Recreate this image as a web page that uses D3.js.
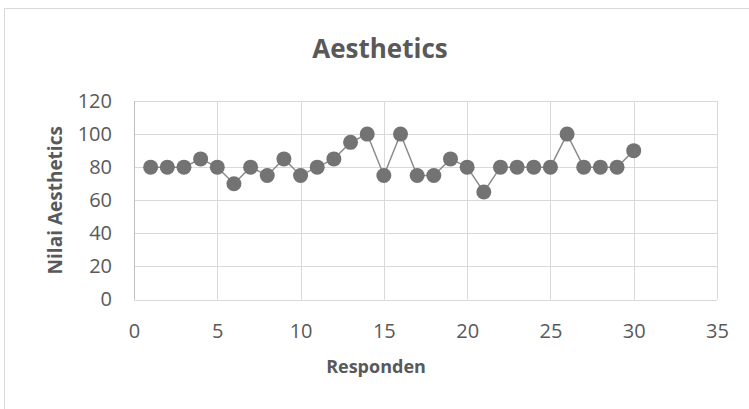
<!DOCTYPE html>
<html>
<head>
<meta charset="utf-8">
<script src="https://cdn.jsdelivr.net/npm/d3@7"></script>
<style>
  body { margin: 0; background: #fff; }
  text { font-family: "Open Sans", "Noto Sans", sans-serif; fill: #595959; }
</style>
</head>
<body>
<script>
const w = 749;
const h = 409;
const margin = { top: 101, right: 32, bottom: 110, left: 134 };

// data
const responden = d3.range(1, 31);
const nilai = [80, 80, 80, 85, 80, 70, 80, 75, 85, 75,
               80, 85, 95, 100, 75, 100, 75, 75, 85, 80,
               65, 80, 80, 80, 80, 100, 80, 80, 80, 90];
const xTicks = [0, 5, 10, 15, 20, 25, 30, 35];
const yTicks = [0, 20, 40, 60, 80, 100, 120];

const data = responden.map((r, i) => ({ x: r, y: nilai[i] }));

const svg = d3.select("body").append("svg")
    .attr("width", w)
    .attr("height", h);

// chart border
svg.append("rect")
    .attr("x", 4.5).attr("y", 8.5)
    .attr("width", w).attr("height", h)
    .attr("fill", "#fff")
    .attr("stroke", "#d9d9d9");

const xScale = d3.scaleLinear()
    .domain([0, 35])
    .range([margin.left, w - margin.right]);

const yScale = d3.scaleLinear()
    .domain([0, 120])
    .range([h - margin.bottom + 0.5, margin.top]);

// gridlines
svg.append("g")
    .selectAll("line.h")
    .data(yTicks)
    .enter().append("line")
    .attr("x1", xScale(0)).attr("x2", xScale(35))
    .attr("y1", d => Math.round(yScale(d)) + 0.5)
    .attr("y2", d => Math.round(yScale(d)) + 0.5)
    .attr("stroke", "#d9d9d9");

svg.append("g")
    .selectAll("line.v")
    .data(xTicks)
    .enter().append("line")
    .attr("y1", yScale(0)).attr("y2", yScale(120))
    .attr("x1", d => Math.round(xScale(d)) + 0.5)
    .attr("x2", d => Math.round(xScale(d)) + 0.5)
    .attr("stroke", d => d === 0 ? "#bfbfbf" : "#d9d9d9");

// axes labels
const xAxis = d3.axisBottom(xScale).tickValues(xTicks).tickSize(0).tickPadding(24);
const yAxis = d3.axisLeft(yScale).tickValues(yTicks).tickSize(0).tickPadding(22);

svg.append("g")
    .attr("transform", `translate(0,${yScale(0)})`)
    .call(xAxis)
    .call(g => g.select(".domain").remove())
    .selectAll("text")
    .style("font-size", "20px")
    .attr("fill", "#595959");

svg.append("g")
    .attr("transform", `translate(${xScale(0)},0)`)
    .call(yAxis)
    .call(g => g.select(".domain").remove())
    .selectAll("text")
    .style("font-size", "20px")
    .attr("fill", "#595959");

// line
const line = d3.line()
    .x(d => xScale(d.x))
    .y(d => yScale(d.y));

svg.append("path")
    .datum(data)
    .attr("d", line)
    .attr("fill", "none")
    .attr("stroke", "#8c8c8c")
    .attr("stroke-width", 1.5);

// markers
svg.selectAll("circle")
    .data(data)
    .enter().append("circle")
    .attr("cx", d => xScale(d.x))
    .attr("cy", d => yScale(d.y))
    .attr("r", 7.5)
    .attr("fill", "#737373");

// title
svg.append("text")
    .attr("x", 380).attr("y", 58)
    .attr("text-anchor", "middle")
    .style("font-size", "26px")
    .style("font-weight", "bold")
    .text("Aesthetics");

// axis titles
svg.append("text")
    .attr("x", 376)
    .attr("y", 373)
    .attr("text-anchor", "middle")
    .style("font-size", "18px")
    .style("font-weight", "bold")
    .text("Responden");

svg.append("text")
    .attr("transform", `translate(62,${(yScale(0) + yScale(120)) / 2}) rotate(-90)`)
    .attr("text-anchor", "middle")
    .style("font-size", "19px")
    .style("font-weight", "bold")
    .text("Nilai Aesthetics");
</script>
</body>
</html>
